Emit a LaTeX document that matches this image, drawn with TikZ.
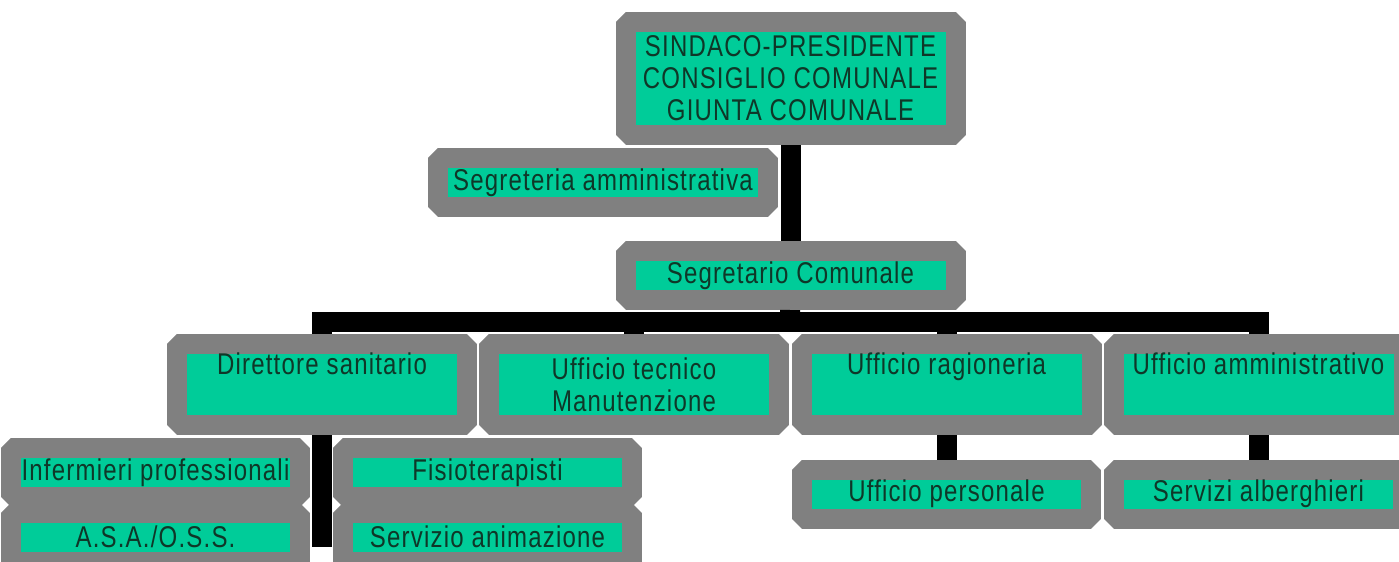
\documentclass[tikz,border=0pt]{standalone}
\usepackage{fontspec}
\setmainfont{Liberation Sans}[FakeStretch=0.8, LetterSpace=4]
\usetikzlibrary{positioning}

\definecolor{boxgreen}{RGB}{0,204,153}
\definecolor{boxgray}{RGB}{128,128,128}
\definecolor{boxtext}{RGB}{15,55,40}

\tikzset{
	orgbox/.style={draw=boxgray, fill=boxgreen, line width=10pt, line join=bevel,
		text=boxtext, font=\fontsize{15}{16}\selectfont, align=center, inner sep=0pt},
	wide/.style={orgbox, minimum width=145pt, minimum height=40.5pt},
	leaf/.style={orgbox, minimum width=144.5pt, minimum height=24.5pt},
	link/.style={line width=10pt, black},
}

\begin{document}
\begin{tikzpicture}[x=0.5pt, y=-0.5pt]
	\useasboundingbox (0,0) rectangle (1399,562);

	% links first, boxes on top
	\coordinate (bus) at (790,322);
	\coordinate (foot) at (322,547);

	\node [orgbox, minimum width=165pt, minimum height=56.5pt] (sindaco) at (790.5,78.5)
		{SINDACO-PRESIDENTE\\CONSIGLIO COMUNALE\\GIUNTA COMUNALE};
	\node [orgbox, minimum width=165pt, minimum height=24.5pt] (segreteria) at (603,182.5)
		{Segreteria amministrativa};
	\node [orgbox, minimum width=165pt, minimum height=24.5pt] (segretario) at (790.5,275.5)
		{Segretario Comunale};

	\node [wide] (direttore) at (322,384.5) {Direttore sanitario\\\strut};
	\node [wide] (tecnico) at (634,384.5) {Ufficio tecnico\\Manutenzione};
	\node [wide] (ragioneria) at (946.5,384.5) {Ufficio ragioneria\\\strut};
	\node [wide] (amministrativo) at (1258.5,384.5) {Ufficio amministrativo\\\strut};

	\node [leaf] (infermieri) at (155.5,472.5) {Infermieri professionali};
	\node [leaf] (asa) at (155.5,537) {A.S.A./O.S.S.};
	\node [leaf] (fisio) at (487.5,472.5) {Fisioterapisti};
	\node [leaf] (animazione) at (487.5,537) {Servizio animazione};
	\node [leaf] (personale) at (946.5,494) {Ufficio personale};
	\node [leaf] (alberghieri) at (1258.5,494) {Servizi alberghieri};

	\draw [link] (sindaco) -- (segretario);
	\draw [link] (segretario) -- (bus);
	\draw [link] (direttore.north) |- (bus) -| (amministrativo.north);
	\draw [link] (tecnico.north) -- (tecnico.north |- bus);
	\draw [link] (ragioneria.north) -- (ragioneria.north |- bus);
	\draw [link] (direttore) -- (foot);
	\draw [link] (ragioneria) -- (personale);
	\draw [link] (amministrativo) -- (alberghieri);
\end{tikzpicture}
\end{document}
